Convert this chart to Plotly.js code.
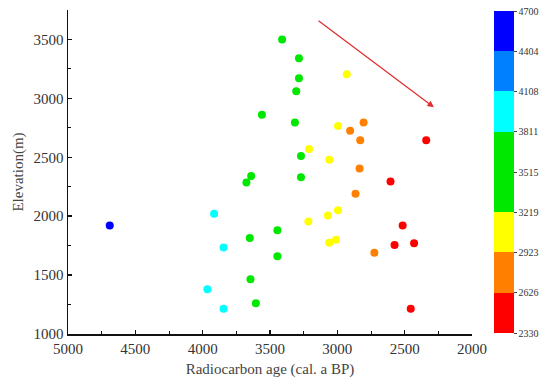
<!DOCTYPE html>
<html>
<head>
<meta charset="utf-8">
<script src="https://cdn.plot.ly/plotly-3.0.1.min.js"></script>
<style>html,body{margin:0;padding:0;background:#fff;}#chart{width:550px;height:387px;}</style>
</head>
<body>
<div id="chart"></div>
<script>
// Radiocarbon age (cal. a BP)
const ages = [4690, 3410, 3560, 3640, 3675, 3915, 3845, 3650, 3445, 3445, 3645, 3965, 3605, 3845,
              3285, 3285, 2930, 3305, 3315, 2995, 2805, 2905, 2830, 2340, 3210, 3270, 3060, 2835,
              3270, 2605, 2865, 2995, 3070, 3215, 2515, 2575, 3060, 3010, 2430, 2725, 2455];
// Elevation (m)
const elevations = [1920, 3500, 2860, 2340, 2285, 2020, 1735, 1815, 1880, 1660, 1465, 1380, 1260, 1215,
                    3340, 3170, 3205, 3060, 2795, 2765, 2795, 2725, 2645, 2645, 2570, 2510, 2480, 2405,
                    2330, 2295, 2190, 2050, 2005, 1955, 1920, 1755, 1775, 1800, 1770, 1690, 1215];
// Colour bar levels and labels
const levels = [2330, 2626.25, 2922.5, 3218.75, 3515, 3811.25, 4107.5, 4403.75, 4700];
const levelLabels = ["2330", "2626", "2923", "3219", "3515", "3811", "4108", "4404", "4700"];
const bandColors = ["#ff0000", "#ff8000", "#ffff00", "#00e800", "#00e800", "#00ffff", "#0080ff", "#0000ff"];

const colorscale = [];
bandColors.forEach((c, i) => {
  colorscale.push([i / bandColors.length, c]);
  colorscale.push([(i + 1) / bandColors.length, c]);
});

const font = "Liberation Serif, Times New Roman, serif";

const trace = {
  type: "scatter",
  mode: "markers",
  x: ages,
  y: elevations,
  marker: {
    size: 8,
    color: ages,
    colorscale: colorscale,
    cmin: levels[0],
    cmax: levels[levels.length - 1],
    showscale: true,
    colorbar: {
      thickness: 20,
      len: 322,
      lenmode: "pixels",
      x: 1.054,
      xanchor: "left",
      xpad: 0,
      y: 0.5,
      yanchor: "middle",
      ypad: 0,
      outlinewidth: 0,
      tickvals: levels,
      ticktext: levelLabels,
      ticks: "outside",
      ticklen: 3,
      tickcolor: "#444",
      tickfont: {family: font, size: 10, color: "#333"}
    }
  },
  hoverinfo: "x+y"
};

const layout = {
  width: 550,
  height: 387,
  margin: {l: 68, r: 78, t: 10, b: 53},
  paper_bgcolor: "#fff",
  plot_bgcolor: "#fff",
  showlegend: false,
  font: {family: font, color: "#333"},
  xaxis: {
    range: [5000, 2000],
    tickvals: [5000, 4500, 4000, 3500, 3000, 2500, 2000],
    ticks: "inside",
    ticklen: 4,
    tickwidth: 1.5,
    tickcolor: "#111",
    minor: {dtick: 250, ticks: "inside", ticklen: 3, tickcolor: "#111", tickwidth: 1},
    showline: true,
    linecolor: "#111",
    linewidth: 1.5,
    showgrid: false,
    zeroline: false,
    tickfont: {family: font, size: 15, color: "#333"},
    title: {text: "Radiocarbon age (cal. a BP)", font: {family: font, size: 15, color: "#444"}, standoff: 8}
  },
  yaxis: {
    range: [1000, 3750],
    tickvals: [1000, 1500, 2000, 2500, 3000, 3500],
    ticks: "inside",
    ticklen: 4,
    tickwidth: 1.5,
    tickcolor: "#111",
    minor: {dtick: 250, ticks: "inside", ticklen: 3, tickcolor: "#111", tickwidth: 1},
    showline: true,
    linecolor: "#111",
    linewidth: 1.5,
    showgrid: false,
    zeroline: false,
    tickfont: {family: font, size: 15, color: "#333"},
    title: {text: "Elevation(m)", font: {family: font, size: 15, color: "#444"}, standoff: 6}
  },
  annotations: [{
    x: 2283, y: 2924, ax: 3151, ay: 3669,
    xref: "x", yref: "y", axref: "x", ayref: "y",
    text: "", showarrow: true,
    arrowhead: 2, arrowsize: 1, arrowwidth: 1.3, arrowcolor: "#e03030"
  }]
};

Plotly.newPlot("chart", [trace], layout, {displayModeBar: false, staticPlot: true});
</script>
</body>
</html>
